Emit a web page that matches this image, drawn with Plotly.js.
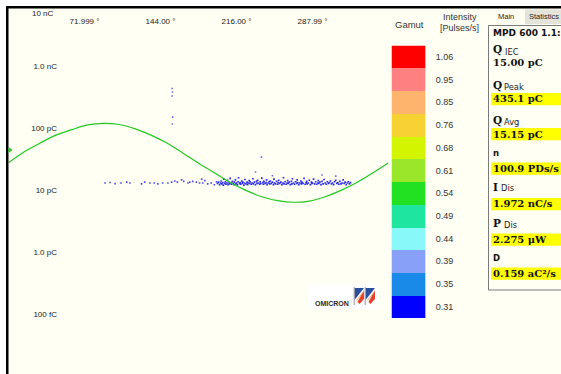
<!DOCTYPE html>
<html><head><meta charset="utf-8">
<script src="https://cdn.plot.ly/plotly-3.0.1.min.js"></script>
<style>html,body{margin:0;padding:0;background:#FFFFF3;overflow:hidden}</style>
</head><body><div id="chart" style="width:561px;height:374px"></div>
<script>
// ---- axis ticks ----
const phaseTickVals = [72, 144, 216, 288];
const phaseTickText = ['71.999 °', '144.00 °', '216.00 °', '287.99 °'];
const chargeTickVals = [0.1, 1, 10, 100, 1000];
const chargeTickText = ['100 fC', '1.0 pC', '10 pC', '100 pC', '1.0 nC'];
const topChargeLabel = '10 nC';

// ---- reference sine (relative level) ----
const sinePhase = [0,15,30,45,60,75,90,105,120,135,150,165,180,195,210,225,240,255,270,285,300,315,330,345,360];
const sineLevel = [0,0.28,0.5,0.7,0.84,0.96,1.0,0.97,0.86,0.7,0.5,0.25,-0.01,-0.25,-0.5,-0.7,-0.86,-0.96,-1.0,-0.97,-0.86,-0.7,-0.5,-0.26,0];

// ---- PD pulses: phase (deg) / charge (pC) ----
const pdPhaseSparse = [91.5,96.2,101,106.6,112,115,126,129,134,138,141.5,146,151,154.5,157.5,160,164,166,170,171.7,174.5,178,181,183,184,186,188.7,192,195,197];
const pdChargeSparse = [13.0,13.2,12.7,13.0,13.4,13.0,12.6,13.4,13.0,13.0,12.6,13.0,13.0,13.4,14.0,13.4,14.6,13.8,13.0,13.4,13.8,13.4,13.0,15.0,13.0,14.2,12.6,13.0,12.2,13.6];
const pdPhaseBand = [
198,199,200,201,201.5,202,203,203.5,204,205,
205.5,206,207,207.5,208,209,209.5,210,211,211.5,
212,213,213.5,214,215,215.5,216,217,217.5,218,
219,219.5,220,221,221.5,222,223,223.5,224,225,
226,226.5,227,228,228.5,229,230,231,231.5,232,
233,234,235,235.5,236,237,238,238.5,239,240,
241,241.5,242,243,244,244.5,245,246,247,247.5,
248,249,250,251,251.5,252,253,254,255,255.5,
256,257,258,259,260,260.5,261,262,263,264,
264.5,265,266,267,268,268.5,269,270,271,272,
273,273.5,274,275,276,277,277.5,278,279,280,
281,282,282.5,283,284,285,286,287,287.5,288,
289,290,291,292,293,293.5,294,295,296,297,
298,299,300,301,302,303,304,305,306,307,
308,309,310,311,312,313,314,315,316,317,
318,319,320,321,322,323,324];
const pdChargeBand = [
12.8,13.4,12.2,13.0,14.0,12.6,13.2,12.0,15.0,12.8,
13.6,12.4,13.0,14.4,12.2,13.2,12.6,15.4,13.0,12.4,
13.8,12.8,12.2,13.4,14.6,12.6,13.0,12.2,13.6,15.8,
12.8,13.2,12.4,14.0,12.8,13.4,12.0,13.0,14.8,12.6,
13.4,12.2,13.0,14.2,12.8,13.6,12.4,13.0,15.2,12.6,
13.4,12.2,13.8,12.8,14.4,13.0,12.4,13.6,12.8,15.6,
13.2,12.4,13.8,12.8,13.2,14.6,12.2,13.0,13.6,12.6,
14.0,12.8,13.4,12.2,15.0,13.0,12.6,13.8,12.4,13.2,
14.4,12.8,13.4,12.2,13.0,15.8,12.6,13.6,12.4,13.0,
14.2,12.8,13.4,12.2,13.8,12.6,15.2,13.0,12.4,13.6,
12.8,14.6,13.2,12.2,13.0,14.0,12.6,13.4,12.8,15.4,
12.4,13.2,13.8,12.6,13.0,14.4,12.2,13.4,12.8,13.0,
15.0,12.6,13.6,12.4,13.0,14.2,12.8,13.4,12.2,13.8,
12.6,14.8,13.0,12.4,13.6,12.8,13.2,14.0,12.6,13.0,
12.2,13.6,14.4,12.8,13.2,12.4,13.8,12.6,13.0,14.6,
12.8,13.4,12.2,13.0,13.6,12.6,13.2];
const pdPhaseOutlier = [155,155.3,155,155.5,155.2,239.6,234,297,310,250];
const pdChargeOutlier = [435.1,381,328,150,116,34,19.5,17.5,16.8,17.0];

// ---- gamut (top to bottom) ----
const gamutLabels = ['1.06','0.95','0.85','0.76','0.68','0.61','0.54','0.49','0.44','0.39','0.35','0.31'];
const gamutColors = ['#FF0000','#FF8080','#FFB46E','#F6D232','#D4F500','#9AE62A','#22E022','#1EE6A0','#88F8F8','#88A0F8','#1A8AE8','#0000FF'];

// ---- statistics panel ----
const statTitle = 'MPD 600 1.1:';
const statLabels = ['Q','Q','Q','n','I','P','D'];
const statSubs = ['IEC','Peak','Avg','','Dis','Dis',''];
const statValues = ['15.00 pC','435.1 pC','15.15 pC','100.9 PDs/s','1.972 nC/s','2.275 μW','0.159 aC²/s'];
const statHighlighted = [false,true,true,true,true,true,true];
const tabNames = ['Main','Statistics'];

// ---------- layout helpers ----------
const W = 561, H = 374;
const px = x => x / W;
const py = y => 1 - y / H;

const labelY = [49.7, 85, 120.5, 152.5, 186.5, 223.3, 258];
const subX = [503.5, 502.5, 502.5, 0, 499.5, 503, 0];
const valueY = [62.5, 99, 134, 168.5, 204, 239.5, 273.5];

const shapes = [];
const annotations = [];

// outer white margin + black frame lines
shapes.push({type:'rect', xref:'paper', yref:'paper', x0:0, x1:px(6), y0:0, y1:1, fillcolor:'#FFFFFF', line:{width:0}, layer:'below'});
shapes.push({type:'rect', xref:'paper', yref:'paper', x0:0, x1:1, y0:py(6), y1:1, fillcolor:'#FFFFFF', line:{width:0}, layer:'below'});
shapes.push({type:'rect', xref:'paper', yref:'paper', x0:px(6), x1:1, y0:py(8.5), y1:py(6), fillcolor:'#000000', line:{width:0}});
shapes.push({type:'rect', xref:'paper', yref:'paper', x0:px(6), x1:px(8.5), y0:0, y1:py(6), fillcolor:'#000000', line:{width:0}});

// green trigger marker at left edge
shapes.push({type:'path', xref:'paper', yref:'paper', path:`M ${px(8.5)} ${py(147)} L ${px(12.5)} ${py(150)} L ${px(8.5)} ${py(153)} Z`, fillcolor:'#22CC22', line:{width:0}});

// statistics tab background
shapes.push({type:'rect', xref:'paper', yref:'paper', x0:px(525), x1:1, y0:py(24), y1:py(9.5), fillcolor:'#E4E4DA', line:{width:0}, layer:'below'});
// panel border
shapes.push({type:'path', xref:'paper', yref:'paper', path:`M ${px(561)} ${py(25.5)} L ${px(488.5)} ${py(25.5)} L ${px(488.5)} ${py(290)} L ${px(561)} ${py(290)}`, line:{color:'#7A7A7A', width:1}});

// yellow value highlights
statValues.forEach((v,i)=>{
  if (statHighlighted[i]) shapes.push({type:'rect', xref:'paper', yref:'paper', x0:px(491), x1:1, y0:py(valueY[i]+6.3), y1:py(valueY[i]-6), fillcolor:'#FFFF00', line:{width:0}, layer:'below'});
});

// Omicron logo
shapes.push({type:'rect', xref:'paper', yref:'paper', x0:px(308), x1:px(378), y0:py(309), y1:py(284), fillcolor:'#FFFFFF', line:{width:0}, layer:'below'});
[354.5, 365.5].forEach(x0=>{
  shapes.push({type:'path', xref:'paper', yref:'paper', path:`M ${px(x0)} ${py(288)} L ${px(x0+9.5)} ${py(288)} L ${px(x0)} ${py(300)} Z`, fillcolor:'#2C4E9E', line:{width:0}});
  shapes.push({type:'path', xref:'paper', yref:'paper', path:`M ${px(x0+9.5)} ${py(290)} L ${px(x0+9.5)} ${py(299)} L ${px(x0+5)} ${py(304)} L ${px(x0+3)} ${py(302)} Z`, fillcolor:'#E8412C', line:{width:0}});
  shapes.push({type:'path', xref:'paper', yref:'paper', path:`M ${px(x0+2)} ${py(300.5)} L ${px(x0+9.5)} ${py(291)}`, line:{color:'#F0A080', width:1}});
  shapes.push({type:'line', xref:'paper', yref:'paper', x0:px(x0-0.3), x1:px(x0-0.3), y0:py(305), y1:py(287), line:{color:'#9A9AA8', width:1}});
});
annotations.push({xref:'paper', yref:'paper', x:px(312.5), y:py(303.5), xanchor:'left', yanchor:'middle', showarrow:false, text:'<b>OMICRON</b>', font:{family:'Liberation Sans', size:7, color:'#2A2A2A'}});

// top label for 10 nC
annotations.push({xref:'paper', yref:'paper', x:px(55.5), y:py(13.3), xanchor:'right', yanchor:'middle', showarrow:false, text:topChargeLabel, font:{family:'Liberation Sans', size:8, color:'#222'}});

// gamut headings
annotations.push({xref:'paper', yref:'paper', x:px(409), y:py(24.5), xanchor:'center', yanchor:'middle', showarrow:false, text:'Gamut', font:{family:'Liberation Sans', size:9.5, color:'#333'}});
annotations.push({xref:'paper', yref:'paper', x:px(459.5), y:py(17), xanchor:'center', yanchor:'middle', showarrow:false, text:'Intensity', font:{family:'Liberation Sans', size:9, color:'#333'}});
annotations.push({xref:'paper', yref:'paper', x:px(459.5), y:py(28), xanchor:'center', yanchor:'middle', showarrow:false, text:'[Pulses/s]', font:{family:'Liberation Sans', size:9, color:'#333'}});

// tabs
annotations.push({xref:'paper', yref:'paper', x:px(505.5), y:py(17), xanchor:'center', yanchor:'middle', showarrow:false, text:tabNames[0], font:{family:'Liberation Sans', size:7.5, color:'#222'}});
annotations.push({xref:'paper', yref:'paper', x:px(543.5), y:py(17), xanchor:'center', yanchor:'middle', showarrow:false, text:tabNames[1], font:{family:'Liberation Sans', size:7.5, color:'#222'}});

// panel texts
annotations.push({xref:'paper', yref:'paper', x:px(490.5), y:py(33), xanchor:'left', yanchor:'middle', showarrow:false, text:'<b>'+statTitle+'</b>', font:{family:'DejaVu Sans', size:9, color:'#111'}});
statLabels.forEach((lab,i)=>{
  const serif = (lab==='Q'||lab==='I'||lab==='P');
  annotations.push({xref:'paper', yref:'paper', x:px(490.5), y:py(labelY[i]), xanchor:'left', yanchor:'middle', showarrow:false,
    text:'<b>'+lab+'</b>', font:{family: serif?'DejaVu Serif':'DejaVu Sans', size: serif?10.5:8.5, color:'#111'}});
  if (statSubs[i]) annotations.push({xref:'paper', yref:'paper', x:px(subX[i]-1), y:py(labelY[i]+1.8), xanchor:'left', yanchor:'middle', showarrow:false,
    text:statSubs[i], font:{family:'DejaVu Sans', size:8.3, color:'#222'}});
  annotations.push({xref:'paper', yref:'paper', x:px(490.5), y:py(valueY[i]), xanchor:'left', yanchor:'middle', showarrow:false,
    text:'<b>'+statValues[i]+'</b>', font:{family:'DejaVu Serif', size:10, color:'#111'}});
});

const traces = [
  {type:'scatter', mode:'lines', x:sinePhase, y:sineLevel, xaxis:'x', yaxis:'y2', line:{color:'#22C922', width:1.2, shape:'spline'}, hoverinfo:'skip'},
  {type:'scatter', mode:'markers', x:pdPhaseSparse, y:pdChargeSparse, xaxis:'x', yaxis:'y', marker:{color:'#4A4AF0', size:1.6, symbol:'square'}, hoverinfo:'skip'},
  {type:'scatter', mode:'markers', x:pdPhaseBand, y:pdChargeBand, xaxis:'x', yaxis:'y', marker:{color:'#2828E8', size:1.7, symbol:'square'}, hoverinfo:'skip'},
  {type:'scatter', mode:'markers', x:pdPhaseOutlier, y:pdChargeOutlier, xaxis:'x', yaxis:'y', marker:{color:'#6A70F0', size:1.6, symbol:'square'}, hoverinfo:'skip'},
  {type:'heatmap', x:[0], y:gamutLabels.map((_,i)=>i), z:gamutLabels.map((_,i)=>[i]), xaxis:'x3', yaxis:'y3', showscale:false, zmin:0, zmax:gamutLabels.length-1,
    colorscale: gamutColors.map((c,i)=>[i/(gamutColors.length-1), c]), hoverinfo:'skip'}
];

const tickFont = {family:'Liberation Sans', size:8, color:'#222'};
const layout = {
  width:W, height:H, margin:{l:0,r:0,t:0,b:0},
  paper_bgcolor:'#FFFFF3', plot_bgcolor:'rgba(0,0,0,0)', showlegend:false,
  xaxis:{domain:[px(8.5), px(388.5)], range:[0,360], anchor:'free', position:py(26), side:'top',
    tickvals:phaseTickVals, ticktext:phaseTickText, ticks:'', showgrid:false, zeroline:false, showline:false, tickfont:tickFont, fixedrange:true},
  yaxis:{domain:[0, py(8.5)], type:'log', range:[-1.9662, 3.9275], anchor:'free', position:px(57), side:'left',
    tickvals:chargeTickVals, ticktext:chargeTickText, ticks:'', showgrid:false, zeroline:false, showline:false, tickfont:tickFont, fixedrange:true},
  yaxis2:{overlaying:'y', range:[-5.354, 3.911], visible:false, fixedrange:true},
  xaxis3:{domain:[px(391.5), px(425.7)], anchor:'y3', visible:false, range:[-0.5,0.5], fixedrange:true},
  yaxis3:{domain:[py(318), py(45.5)], anchor:'x3', side:'right', range:[gamutLabels.length-0.5,-0.5],
    tickvals:gamutLabels.map((_,i)=>i), ticktext:gamutLabels, ticks:'', showgrid:false, zeroline:false, showline:false,
    ticklabelstandoff:9, tickfont:{family:'Liberation Sans', size:9, color:'#333'}, fixedrange:true},
  shapes:shapes, annotations:annotations
};
Plotly.newPlot('chart', traces, layout, {staticPlot:true, displayModeBar:false});
</script></body></html>
